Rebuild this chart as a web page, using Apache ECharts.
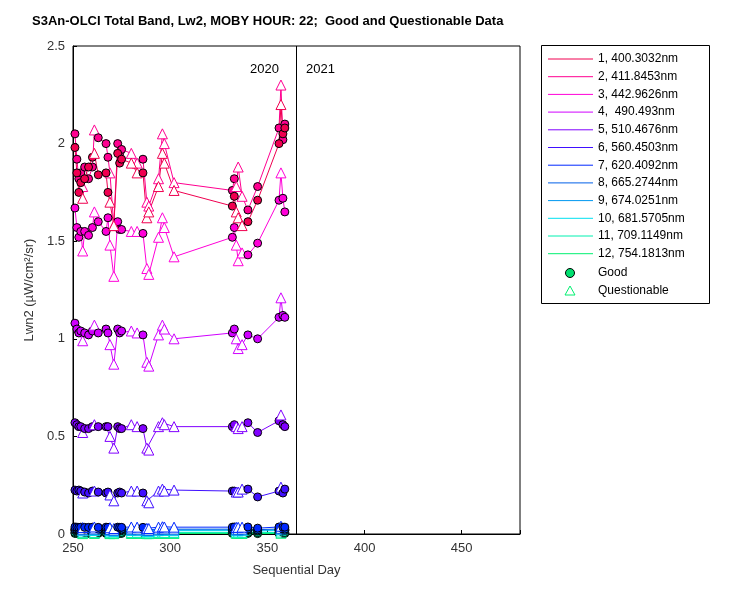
<!DOCTYPE html>
<html>
<head>
<meta charset="utf-8">
<script src="https://cdn.jsdelivr.net/npm/echarts@6/dist/echarts.min.js"></script>
<style>html,body{margin:0;padding:0;background:#fff}#chart{width:750px;height:600px}</style>
</head>
<body>
<div id="chart"></div>
<script>
var days = [251,252,253,254,255,256,258,260,261,263,267,268,269,271,273,274,275,280,283,286,288,289,294,296,297,302,332,333,334,335,337,340,345,356,357,358,359];
// 1 = good, 0 = questionable
var good = [1,1,1,1,0,1,1,1,0,1,1,1,0,0,1,1,1,0,0,1,0,0,0,0,0,0,1,1,0,0,0,1,1,1,0,1,1];
var bandNames = ['1, 400.3032nm','2, 411.8453nm','3, 442.9626nm','4,  490.493nm','5, 510.4676nm','6, 560.4503nm',
  '7, 620.4092nm','8, 665.2744nm','9, 674.0251nm','10, 681.5705nm','11, 709.1149nm','12, 754.1813nm'];
var bandColors = ['#f00050','#ff0090','#ff00d8','#d000ff','#8000ff','#4010ff','#0028ff','#0060e8','#0098f0','#00e0f0','#00f0b0','#00f070'];
var b1 = [1.98,1.85,1.75,1.80,1.72,1.82,1.88,1.93,1.95,1.84,1.85,1.75,1.70,1.58,1.95,1.90,1.92,1.90,1.85,1.85,1.62,1.65,1.78,1.95,1.90,1.76,1.68,1.73,1.65,1.62,1.58,1.60,1.71,2.00,2.20,2.05,2.08];
var b2 = [2.05,1.92,1.82,1.85,1.78,1.88,1.82,1.88,2.07,2.03,2.00,1.93,1.85,1.58,2.00,1.95,1.97,1.95,1.90,1.92,1.70,1.68,1.82,2.05,2.00,1.80,1.76,1.82,1.78,1.88,1.73,1.66,1.78,2.08,2.30,2.02,2.10];
var b3 = [1.67,1.57,1.52,1.55,1.45,1.55,1.53,1.57,1.65,1.60,1.55,1.62,1.48,1.32,1.60,1.56,1.56,1.55,1.55,1.54,1.36,1.33,1.52,1.62,1.57,1.42,1.52,1.57,1.48,1.40,1.44,1.43,1.49,1.71,1.85,1.72,1.65];
var b4 = [1.08,1.05,1.03,1.04,0.99,1.03,1.02,1.04,1.07,1.03,1.05,1.03,0.97,0.87,1.05,1.03,1.04,1.04,1.03,1.02,0.88,0.86,1.02,1.07,1.05,1.00,1.03,1.05,1.00,0.95,0.97,1.02,1.00,1.11,1.21,1.12,1.11];
var b5 = [0.57,0.56,0.55,0.55,0.52,0.54,0.54,0.55,0.56,0.55,0.55,0.55,0.50,0.44,0.55,0.54,0.54,0.56,0.55,0.54,0.44,0.43,0.55,0.57,0.56,0.55,0.55,0.56,0.55,0.54,0.55,0.57,0.52,0.58,0.61,0.56,0.55];
var b6 = [0.225,0.22,0.225,0.22,0.21,0.215,0.21,0.22,0.22,0.215,0.21,0.215,0.20,0.17,0.21,0.215,0.21,0.22,0.22,0.21,0.17,0.16,0.22,0.23,0.22,0.225,0.22,0.22,0.215,0.215,0.23,0.23,0.19,0.22,0.24,0.21,0.23];
var b7 = [0.036,0.035,0.034,0.035,0.033,0.034,0.034,0.035,0.036,0.034,0.035,0.034,0.032,0.028,0.035,0.034,0.034,0.036,0.035,0.034,0.029,0.028,0.035,0.037,0.036,0.035,0.035,0.036,0.034,0.034,0.035,0.036,0.030,0.036,0.040,0.035,0.035];
var b8 = [0.026,0.025,0.025,0.025,0.024,0.025,0.024,0.025,0.026,0.025,0.025,0.025,0.023,0.020,0.025,0.025,0.025,0.026,0.025,0.025,0.021,0.020,0.025,0.027,0.026,0.025,0.025,0.026,0.025,0.024,0.025,0.026,0.022,0.026,0.029,0.025,0.025];
var b9 = [0.022,0.021,0.021,0.021,0.020,0.021,0.020,0.021,0.022,0.021,0.021,0.021,0.019,0.017,0.021,0.021,0.021,0.022,0.021,0.021,0.018,0.017,0.021,0.023,0.022,0.021,0.021,0.022,0.021,0.020,0.021,0.022,0.019,0.022,0.025,0.021,0.021];
var b10 = [0.018,0.017,0.017,0.017,0.016,0.017,0.016,0.017,0.018,0.017,0.017,0.017,0.015,0.013,0.017,0.017,0.017,0.018,0.017,0.017,0.014,0.013,0.017,0.019,0.018,0.017,0.017,0.018,0.017,0.016,0.017,0.018,0.015,0.018,0.021,0.017,0.017];
var b11 = [0.008,0.008,0.007,0.008,0.007,0.008,0.007,0.008,0.008,0.008,0.008,0.008,0.007,0.006,0.008,0.008,0.008,0.008,0.008,0.008,0.006,0.006,0.008,0.009,0.008,0.008,0.008,0.008,0.008,0.007,0.008,0.008,0.007,0.008,0.010,0.008,0.008];
var b12 = [0.003,0.003,0.003,0.003,0.002,0.003,0.003,0.003,0.003,0.003,0.003,0.003,0.002,0.002,0.003,0.003,0.003,0.003,0.003,0.003,0.002,0.002,0.003,0.004,0.003,0.003,0.003,0.003,0.003,0.003,0.003,0.003,0.002,0.003,0.004,0.003,0.003];
var bands = [b1,b2,b3,b4,b5,b6,b7,b8,b9,b10,b11,b12];
var xTicks = [250,300,350,400,450];
var yTicks = [0,0.5,1,1.5,2,2.5];

var chart = echarts.init(document.getElementById('chart'));

// draw lower bands first so the top ones sit over them
var series = [];
for (var b = bands.length - 1; b >= 0; b--) {
    var col = bandColors[b];
    var pts = days.map(function (d, i) {
        return {
            value: [d, bands[b][i]],
            symbol: good[i] ? 'circle' : 'triangle',
            symbolSize: good[i] ? 8 : 10,
            itemStyle: good[i] ? {color: col, borderColor: '#000', borderWidth: 1}
                               : {color: '#fff', borderColor: col, borderWidth: 1}
        };
    });
    series.push({
        type: 'line', name: bandNames[b], data: pts, animation: false,
        lineStyle: {color: col, width: 1}, showAllSymbol: true
    });
}
series.push({
    type: 'line', data: [], silent: true,
    markLine: {symbol: 'none', silent: true, label: {show: false},
        lineStyle: {color: '#000', width: 1, type: 'solid'}, data: [{xAxis: 365}]}
});

// legend box drawn by hand (MATLAB style)
var font = '12px Arial, "Liberation Sans"';
var legend = [{type: 'rect', left: 541, top: 45, shape: {width: 168, height: 258},
    style: {fill: '#fff', stroke: '#000', lineWidth: 1}, z: 10}];
bandNames.forEach(function (n, i) {
    var y = 59 + i * 17.7;
    legend.push({type: 'line', shape: {x1: 548, y1: y, x2: 593, y2: y}, style: {stroke: bandColors[i], lineWidth: 1}, z: 11});
    legend.push({type: 'text', x: 598, y: y, style: {text: n, font: font, fill: '#000', textVerticalAlign: 'middle'}, z: 11});
});
legend.push({type: 'circle', shape: {cx: 570, cy: 273, r: 4.5}, style: {fill: '#00e070', stroke: '#000', lineWidth: 1}, z: 11});
legend.push({type: 'text', x: 598, y: 273, style: {text: 'Good', font: font, fill: '#000', textVerticalAlign: 'middle'}, z: 11});
legend.push({type: 'polygon', shape: {points: [[570, 286], [565, 295], [575, 295]]}, style: {fill: '#fff', stroke: '#00f070', lineWidth: 1}, z: 11});
legend.push({type: 'text', x: 598, y: 291, style: {text: 'Questionable', font: font, fill: '#000', textVerticalAlign: 'middle'}, z: 11});
legend.push({type: 'text', left: 250, top: 63, style: {text: '2020', font: '13px Arial, "Liberation Sans"', fill: '#000'}, z: 11});
legend.push({type: 'text', left: 306, top: 63, style: {text: '2021', font: '13px Arial, "Liberation Sans"', fill: '#000'}, z: 11});

option = {
    backgroundColor: '#fff',
    animation: false,
    title: {text: 'S3An-OLCI Total Band, Lw2, MOBY HOUR: 22;  Good and Questionable Data', left: 27, top: 10,
        textStyle: {fontSize: 13, fontWeight: 'bold', color: '#000', fontFamily: 'Arial, "Liberation Sans"'}},
    grid: {left: 73, right: 230, top: 46, bottom: 66, show: true, borderColor: '#000', borderWidth: 1, backgroundColor: '#fff'},
    xAxis: {type: 'value', min: 250, max: 480, interval: 50,
        name: 'Sequential Day', nameLocation: 'middle', nameGap: 30,
        nameTextStyle: {fontSize: 13, color: '#333', fontFamily: 'Arial, "Liberation Sans"'},
        axisLine: {lineStyle: {color: '#000'}}, axisTick: {inside: true, length: 4, lineStyle: {color: '#000'}},
        axisLabel: {color: '#333', fontSize: 13, fontFamily: 'Arial, "Liberation Sans"',
            formatter: function (v) { return xTicks.indexOf(v) >= 0 ? v : ''; }},
        splitLine: {show: false}},
    yAxis: {type: 'value', min: 0, max: 2.5, interval: 0.5,
        name: 'Lwn2 (µW/cm²/sr)', nameLocation: 'middle', nameGap: 33,
        nameTextStyle: {fontSize: 13, color: '#333', fontFamily: 'Arial, "Liberation Sans"'},
        axisLine: {lineStyle: {color: '#000'}}, axisTick: {inside: true, length: 4, lineStyle: {color: '#000'}},
        axisLabel: {color: '#333', fontSize: 13, fontFamily: 'Arial, "Liberation Sans"',
            formatter: function (v) { return yTicks.indexOf(v) >= 0 ? String(v) : ''; }},
        splitLine: {show: false}},
    graphic: legend,
    series: series
};
chart.setOption(option);
</script>
</body>
</html>
